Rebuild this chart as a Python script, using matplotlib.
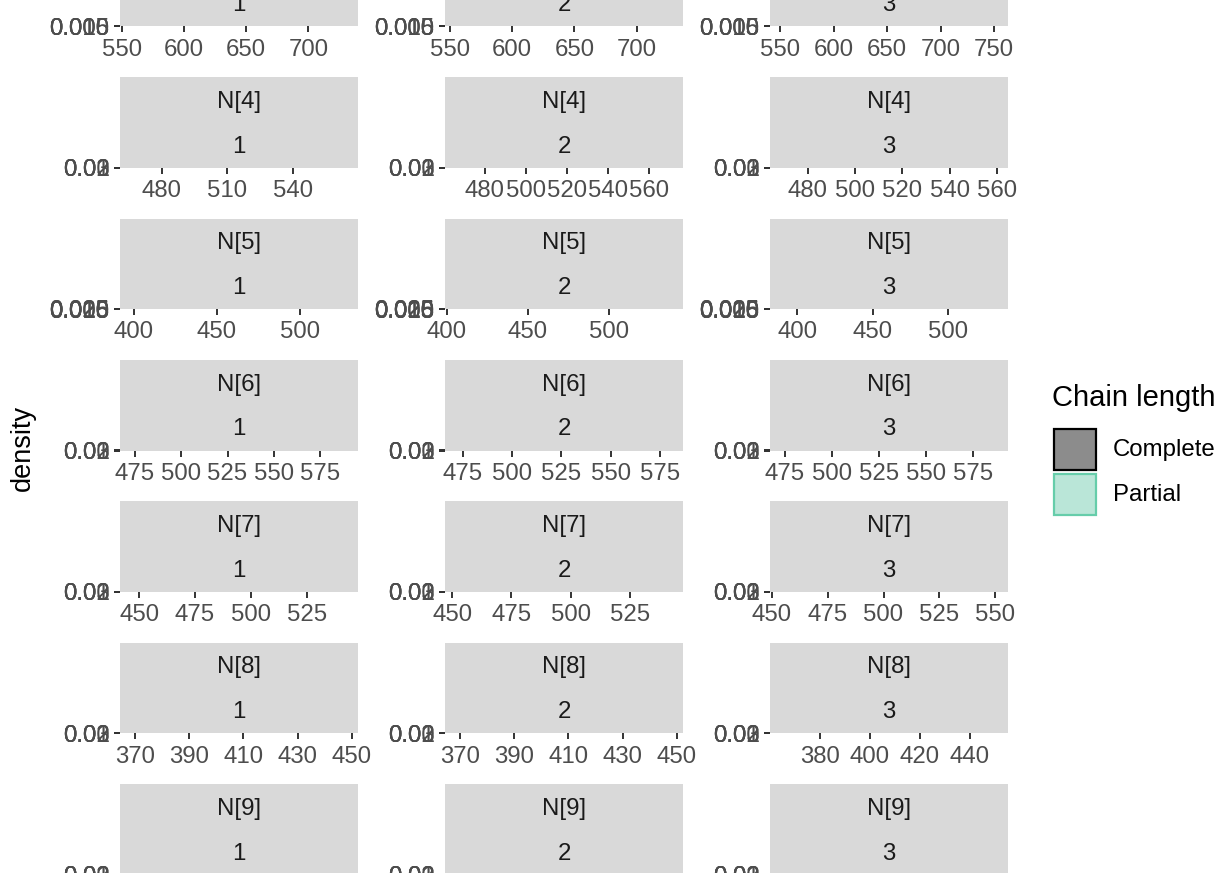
import matplotlib
matplotlib.use("Agg")
import matplotlib.pyplot as plt
from matplotlib.patches import Rectangle

plt.rcParams["font.family"] = ["Liberation Sans", "DejaVu Sans"]

# facet labels
params = ["N[3]", "N[4]", "N[5]", "N[6]", "N[7]", "N[8]", "N[9]"]
chains = ["1", "2", "3"]

# x range of every facet (row = parameter, column = chain)
x_limits = [
    [(548.6, 739.9), (546.0, 737.3), (540.7, 762.8)],
    [(461.0, 569.8), (460.5, 576.6), (464.0, 564.7)],
    [(391.6, 535.0), (399.0, 545.4), (381.8, 540.0)],
    [(466.9, 595.5), (465.9, 586.7), (467.0, 593.6)],
    [(441.4, 548.0), (447.0, 547.4), (449.1, 555.8)],
    [(364.5, 452.3), (364.5, 452.3), (360.0, 455.2)],
    [(0.0, 1.0), (0.0, 1.0), (0.0, 1.0)],
]
x_ticks = [
    [[550, 600, 650, 700], [550, 600, 650, 700], [550, 600, 650, 700, 750]],
    [[480, 510, 540], [480, 500, 520, 540, 560], [480, 500, 520, 540, 560]],
    [[400, 450, 500], [400, 450, 500], [400, 450, 500]],
    [[475, 500, 525, 550, 575], [475, 500, 525, 550, 575], [475, 500, 525, 550, 575]],
    [[450, 475, 500, 525], [450, 475, 500, 525], [450, 475, 500, 525, 550]],
    [[370, 390, 410, 430, 450], [370, 390, 410, 430, 450], [380, 400, 420, 440]],
    [[], [], []],
]

# density axis breaks per row, with the decimals used for their labels
y_ticks = [
    [0.0, 0.005, 0.010, 0.015],
    [0.0, 0.01, 0.02, 0.03],
    [0.0, 0.005, 0.010, 0.015, 0.020, 0.025],
    [0.0, 0.01, 0.02, 0.03],
    [0.0, 0.01, 0.02, 0.03],
    [0.0, 0.01, 0.02, 0.03],
    [0.0, 0.01, 0.02, 0.03],
]
y_decimals = [3, 2, 3, 2, 2, 2, 2]

legend_labels = ["Complete", "Partial"]
legend_fill = ["#8C8C8C", "#BAE6D8"]
legend_edge = ["#000000", "#66CDAA"]

W, H = 1224, 873
COL_LEFT = [120, 445, 770]
PANEL_W = 238
ROW_BASE = 26.4
ROW_STEP = 141.4
STRIP_H = 90.5

AXIS_TXT = "#4D4D4D"
STRIP_TXT = "#1A1A1A"
STRIP_BG = "#D9D9D9"
FS = 17.3
FS_TITLE = 21.0


def rect(x0, y_top, w, h):
    """Pixel box measured from the top-left corner -> figure fraction."""
    return [x0 / W, 1 - (y_top + h) / H, w / W, h / H]


fig = plt.figure(figsize=(W / 100, H / 100), dpi=100)

for i, name in enumerate(params):
    y_panel = ROW_BASE + ROW_STEP * i
    for j, chain in enumerate(chains):
        x0 = COL_LEFT[j]

        # the panel itself has collapsed to (almost) no height
        ax = fig.add_axes(rect(x0, y_panel - 0.3, PANEL_W, 0.3))
        ax.set_facecolor("none")
        for s in ax.spines.values():
            s.set_visible(False)
        ax.set_xlim(*x_limits[i][j])
        ax.set_xticks(x_ticks[i][j])
        ax.set_xticklabels([str(v) for v in x_ticks[i][j]])
        ax.set_ylim(0, y_ticks[i][-1])
        ax.set_yticks(y_ticks[i])
        ax.set_yticklabels([f"{v:.{y_decimals[i]}f}" for v in y_ticks[i]])
        ax.tick_params(axis="both", direction="out", length=4.0, width=1.4,
                       color="#333333", labelcolor=AXIS_TXT, labelsize=FS)
        ax.tick_params(axis="x", pad=4.8)
        ax.tick_params(axis="y", pad=3.4)

        # two stacked strips: parameter on top, chain below
        sx = fig.add_axes(rect(x0, y_panel - STRIP_H, PANEL_W, STRIP_H))
        sx.set_facecolor(STRIP_BG)
        sx.set_xticks([])
        sx.set_yticks([])
        for s in sx.spines.values():
            s.set_visible(False)
        sx.text(0.5, 0.73, name, ha="center", va="center",
                fontsize=FS, color=STRIP_TXT, transform=sx.transAxes)
        sx.text(0.5, 0.235, chain, ha="center", va="center",
                fontsize=FS, color=STRIP_TXT, transform=sx.transAxes)

fig.text(23 / W, 1 - 448 / H, "density", rotation=90, ha="center",
         va="center", fontsize=19.5, color="black")

# legend
fig.text(1052 / W, 1 - 398 / H, "Chain length", ha="left", va="center",
         fontsize=FS_TITLE, color="black")
key_top = [429, 474]
for k, lab in enumerate(legend_labels):
    fig.add_artist(Rectangle((1054 / W, 1 - (key_top[k] + 41) / H), 42 / W, 41 / H,
                             transform=fig.transFigure, facecolor=legend_fill[k],
                             edgecolor=legend_edge[k], linewidth=1.6))
    fig.text(1113 / W, 1 - (key_top[k] + 21) / H, lab, ha="left", va="center",
             fontsize=FS, color="black")

fig.savefig("out.png", dpi=100)
